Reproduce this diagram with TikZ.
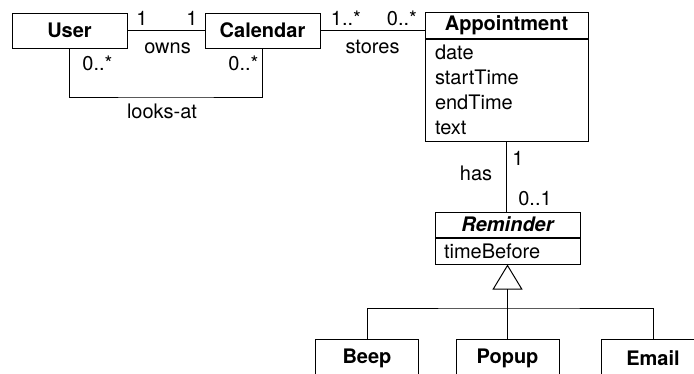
\documentclass[tikz,border=0pt]{standalone}
\usepackage{fontspec}
\setmainfont{TeX Gyre Heros}
\usetikzlibrary{arrows.meta}

\newcommand\umlsize{\fontsize{20}{25}\selectfont}

\begin{document}
\begin{tikzpicture}[x=1pt,y=-1pt,
  line width=1pt,
  every node/.style={font=\umlsize},
  cls/.style={draw, inner sep=0pt, font=\umlsize\bfseries,
    minimum width=115, minimum height=35},
  head/.style={draw, inner sep=0pt, font=\umlsize\bfseries},
  body/.style={draw, inner ysep=0pt, align=left, font=\umlsize},
  mult/.style={inner sep=0pt, anchor=base},
  gen/.style={-{Triangle[open,width=30pt,length=25pt]}}]
\useasboundingbox (0,0) rectangle (694,373);
\clip (0,0) rectangle (694,373);

% classes
\node[cls] (user) at (69.5,30.5) {User};
\node[cls] (cal) at (262.5,30.5) {Calendar};

\node[head, minimum width=163, minimum height=26] (apph) at (506.5,25) {Appointment};
\node[body, anchor=north, inner xsep=10, text width=143, minimum height=102]
  (appb) at (apph.south) {date\\startTime\\endTime\\text};

\node[head, font=\umlsize\bfseries\itshape, minimum width=145, minimum height=25]
  (remh) at (507.5,224.5) {Reminder};
\node[body, anchor=north, inner xsep=9, text width=127, minimum height=26]
  (remb) at (remh.south) {timeBefore};

\node[cls, anchor=north, minimum width=103, minimum height=38] (beep) at (367,339) {Beep};
\node[cls, anchor=north, minimum width=103, minimum height=38] (popup) at (507.5,339) {Popup};
\node[cls, anchor=north, minimum width=104, minimum height=38] (email) at (653,339) {Email};

% associations
\draw (user.east) -- (cal.west);
\coordinate (lookbend) at (166,97);
\draw (user.south) |- (lookbend) -| (cal.south);
\draw (cal.east) -- (apph.west |- cal.east);
\draw (appb.south) -- (appb.south |- remh.north);

% generalization
\coordinate (bus) at (507.5,308);
\draw (beep.north) |- (bus) -| (email.north);
\draw[gen] (popup.north) -- (remb.south);

% association labels and multiplicities
\node[mult] (m1) at (142,25) {1};
\node[mult] (m2) at (192,25) {1};
\node[mult] (owns) at (167.5,53) {owns};
\node[mult] (m3) at (97.5,70) {0..*};
\node[mult] (m4) at (243.5,70) {0..*};
\node[mult] (looks) at (162,118) {looks-at};
\node[mult] (m5) at (346,25) {1..*};
\node[mult] (m6) at (402,25) {0..*};
\node[mult] (stores) at (372.5,53) {stores};
\node[mult] (m7) at (518,165) {1};
\node[mult] (has) at (476,180) {has};
\node[mult] (m8) at (535,205) {0..1};
\end{tikzpicture}
\end{document}
